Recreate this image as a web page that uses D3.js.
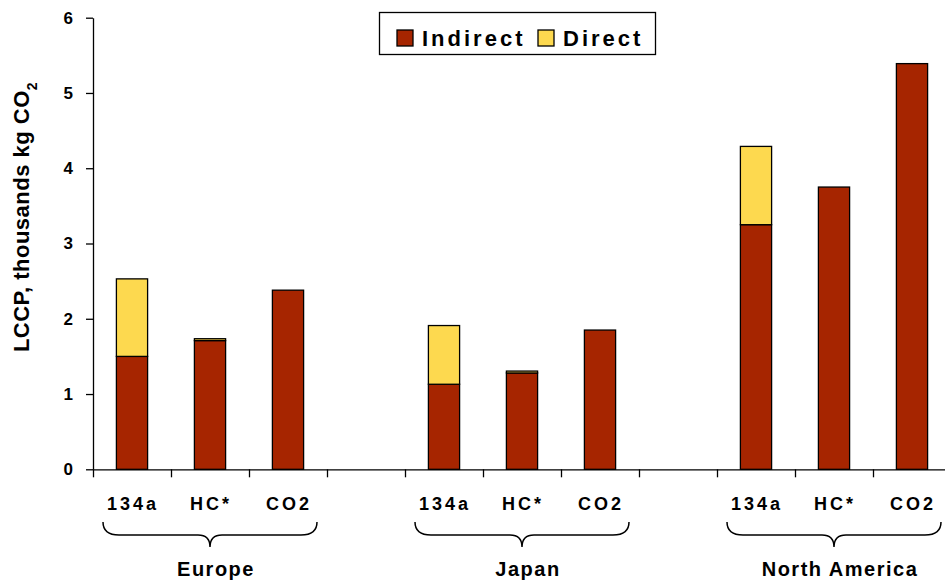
<!DOCTYPE html>
<html>
<head>
<meta charset="UTF-8">
<script src="https://cdn.jsdelivr.net/npm/d3@7"></script>
<style>
  body { margin: 0; background: #fff; }
  svg text { font-family: Arial, "Liberation Sans", sans-serif; font-weight: bold; fill: #000; }
</style>
</head>
<body>
<svg id="chart" width="945" height="582"></svg>
<script>
// data (thousands kg CO2)
var groups = ["Europe", "Japan", "North America"];
var refrigerants = ["134a", "HC*", "CO2"];
var indirect = [1.50, 1.71, 2.38, 1.13, 1.28, 1.85, 3.25, 3.75, 5.39];
var direct   = [1.03, 0.025, 0, 0.78, 0.025, 0, 1.04, 0, 0];
var yTicks = [0, 1, 2, 3, 4, 5, 6];
var seriesNames = ["Indirect", "Direct"];
var seriesColors = ["#A62500", "#FDD94F"];

var svg = d3.select("#chart");
var plotLeft = 93, plotRight = 951, plotTop = 17.7, plotBottom = 469.3;
var nSlots = groups.length * 4 - 1;   // one empty slot between groups

var y = d3.scaleLinear().domain([0, 6]).range([plotBottom, plotTop]);
var xSlot = d3.scaleBand().domain(d3.range(nSlots)).range([plotLeft, plotRight])
  .paddingInner(0.6).paddingOuter(0.3);
var xEdge = d3.scaleLinear().domain([0, nSlots]).range([plotLeft, plotRight]);

var rows = [];
groups.forEach(function (g, gi) {
  refrigerants.forEach(function (r, ri) {
    var i = gi * 3 + ri;
    rows.push({ group: g, ref: r, slot: gi * 4 + ri, Indirect: indirect[i], Direct: direct[i] });
  });
});
var stack = d3.stack().keys(seriesNames)(rows);

// y axis
var yAxis = svg.append("g").attr("transform", "translate(" + plotLeft + ",0)")
  .call(d3.axisLeft(y).tickValues(yTicks).tickFormat(d3.format("d")).tickSize(7).tickSizeOuter(0).tickPadding(13));
yAxis.selectAll("text").style("font-size", "17px");
yAxis.selectAll("line, path").attr("stroke", "#000").attr("stroke-width", 1.3);

// bars
svg.append("g").selectAll("g").data(stack).enter().append("g")
  .attr("fill", function (d, i) { return seriesColors[i]; })
  .selectAll("rect").data(function (d) { return d.filter(function (p) { return p[1] - p[0] > 0; }); })
  .enter().append("rect")
  .attr("x", function (d) { return xSlot(d.data.slot); })
  .attr("width", xSlot.bandwidth())
  .attr("y", function (d) { return y(d[1]); })
  .attr("height", function (d) { return y(d[0]) - y(d[1]); })
  .attr("stroke", "#000").attr("stroke-width", 1.3);

// x axis with ticks at slot edges
var xAxis = svg.append("g").attr("transform", "translate(0," + plotBottom + ")")
  .call(d3.axisBottom(xEdge).tickValues(d3.range(nSlots + 1)).tickFormat("").tickSize(8).tickSizeOuter(0));
xAxis.selectAll("line, path").attr("stroke", "#000").attr("stroke-width", 1.3);

// refrigerant labels
svg.append("g").selectAll("text").data(rows).enter().append("text")
  .attr("x", function (d) { return xSlot(d.slot) + xSlot.bandwidth() / 2 + 1; })
  .attr("y", 510)
  .attr("text-anchor", "middle")
  .style("font-size", "18px").style("letter-spacing", "3px")
  .text(function (d) { return d.ref; });

// braces and group names
groups.forEach(function (g, gi) {
  var x1 = xEdge(gi * 4) + 10, x2 = xEdge(gi * 4 + 3) - 10, xm = (x1 + x2) / 2;
  var y0 = 522, y1 = 535, y2 = 547;
  var p = d3.path();
  p.moveTo(x1, y0);
  p.quadraticCurveTo(x1, y1, x1 + 16, y1);
  p.lineTo(xm - 12, y1);
  p.quadraticCurveTo(xm, y1, xm, y2);
  p.quadraticCurveTo(xm, y1, xm + 12, y1);
  p.lineTo(x2 - 16, y1);
  p.quadraticCurveTo(x2, y1, x2, y0);
  svg.append("path").attr("d", p.toString()).attr("fill", "none")
    .attr("stroke", "#000").attr("stroke-width", 1.5);
  svg.append("text").attr("x", xm + 6).attr("y", 576)
    .attr("text-anchor", "middle")
    .style("font-size", "20px").style("letter-spacing", "1.5px")
    .text(g);
});

// y axis title
var title = svg.append("text")
  .attr("transform", "translate(29,217) rotate(-90)")
  .attr("text-anchor", "middle")
  .style("font-size", "22px").style("letter-spacing", "0.5px");
title.append("tspan").text("LCCP, thousands kg CO");
title.append("tspan").attr("baseline-shift", "sub").style("font-size", "14px").text("2");

// legend
var legend = svg.append("g");
legend.append("rect").attr("x", 379.5).attr("y", 12.5).attr("width", 276).attr("height", 42)
  .attr("fill", "#fff").attr("stroke", "#000").attr("stroke-width", 1.3);
var legendX = [397, 538];
seriesNames.forEach(function (s, i) {
  legend.append("rect").attr("x", legendX[i]).attr("y", 30).attr("width", 16).attr("height", 16)
    .attr("fill", seriesColors[i]).attr("stroke", "#000").attr("stroke-width", 1.3);
  legend.append("text").attr("x", legendX[i] + 25).attr("y", 46)
    .style("font-size", "22px").style("letter-spacing", "3px")
    .text(s);
});
</script>
</body>
</html>
